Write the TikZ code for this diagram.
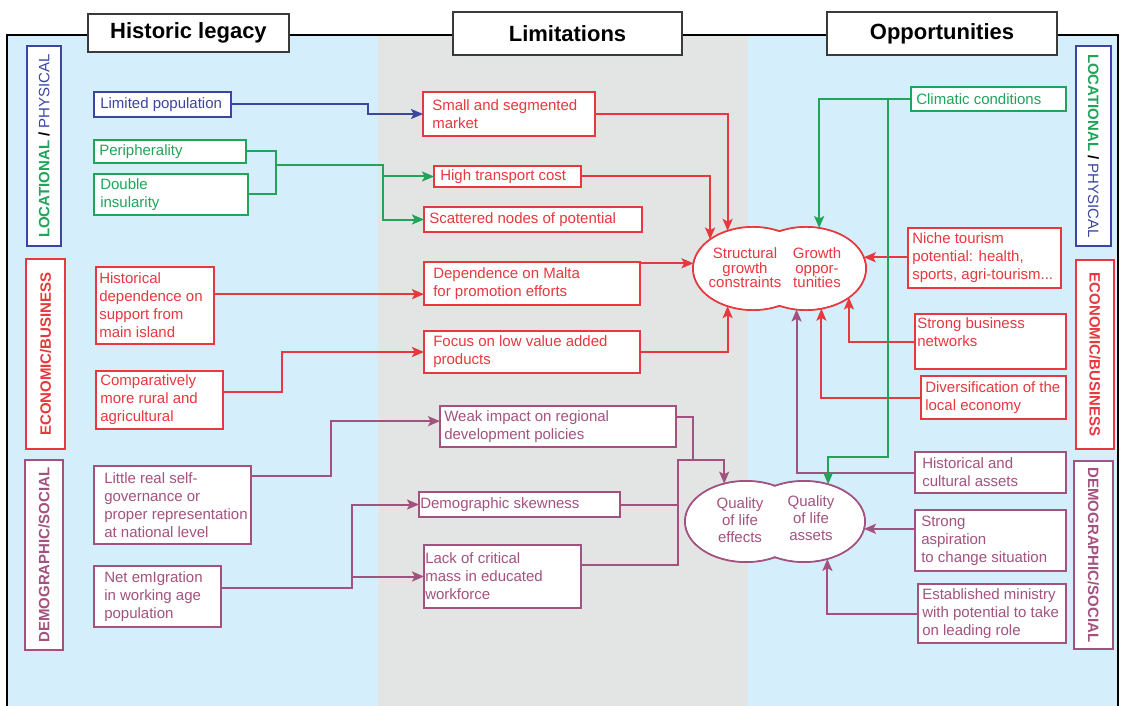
\documentclass[tikz,border=0pt]{standalone}
\usepackage{fontspec}
\setmainfont{Liberation Sans}
\usetikzlibrary{arrows.meta,fit,shapes.geometric}
\definecolor{bgblue}{HTML}{D4EEFB}
\definecolor{bggray}{HTML}{E3E4E4}
\definecolor{cred}{HTML}{E8383F}
\definecolor{cgreen}{HTML}{22A35A}
\definecolor{cblue}{HTML}{3A46A0}
\definecolor{cpurp}{HTML}{A3527F}
\definecolor{tframe}{HTML}{3A3A3A}
\tikzset{
  boxf/.style={rectangle, inner sep=0pt, outer sep=0pt, fill=white, line width=1.3pt},
  boxt/.style={inner sep=0pt, align=left, font=\fontsize{11.25}{13.5}\selectfont},
  cattext/.style={inner sep=0pt, font=\fontsize{11.25}{13}\selectfont\bfseries},
  titlebox/.style={rectangle, inner sep=0pt, outer sep=0pt, fill=white, draw=tframe, line width=1.4pt},
  titletext/.style={inner sep=0pt, font=\fontsize{16.5}{18}\selectfont\bfseries},
  ell/.style={ellipse, inner sep=0pt, outer sep=0pt, fill=white, line width=1.5pt},
  elltext/.style={inner sep=0pt, align=center},
  conn/.style={line width=1.5pt},
  arr/.style={conn, -{Stealth[length=9pt,width=7.5pt,inset=2pt]}},
}
% name, colour, x1, y1, x2, y2, text offset (px), text
\newcommand\bx[8]{%
  \node[boxf, draw=#2, fit={(#3,#4) (#5,#6)}] (#1) {};
  \node[boxt, text=#2, anchor=west] (#1t) at ([xshift=#7*0.75pt]#1.west) {#8};
}
% name, colour, x1, y1, x2, y2, rotation, text
\newcommand\catbx[8]{%
  \node[boxf, draw=#2, fit={(#3,#4) (#5,#6)}] (#1) {};
  \node[cattext, rotate=#7] (#1t) at (#1.center) {#8};
}
\begin{document}
\begin{tikzpicture}[x=0.75pt,y=-0.75pt]
\useasboundingbox (0,0) rectangle (1124,706);
% backgrounds and frame
\fill[bgblue] (7,35) rectangle (378,706);
\fill[bggray] (378,35) rectangle (748,706);
\fill[bgblue] (748,35) rectangle (1118,706);
\draw[line width=2pt] (7,706) -- (7,35) -- (1118,35) -- (1118,706);
% titles
\node[titlebox, fit={(88,14) (289,52)}] (th) {};
\node[titletext] (tht) at (th.center) {Historic legacy};
\node[titlebox, fit={(453,12) (682,55)}] (tl) {};
\node[titletext] (tlt) at (tl.center) {Limitations};
\node[titlebox, fit={(827,12) (1057,55)}] (to) {};
\node[titletext] (tot) at (to.center) {Opportunities};
% category labels
\catbx{cl1}{cblue}{27}{46}{61}{246}{90}{\textcolor{cgreen}{LOCATIONAL} / \textcolor{cblue}{\mdseries PHYSICAL}}
\catbx{ce1}{cred}{26}{259}{65}{449}{90}{\textcolor{cred}{ECONOMIC/BUSINESS}}
\catbx{cd1}{cpurp}{25}{460}{63}{650}{90}{\textcolor{cpurp}{DEMOGRAPHIC/SOCIAL}}
\catbx{cl2}{cblue}{1076}{46}{1111}{246}{-90}{\textcolor{cgreen}{LOCATIONAL} / \textcolor{cblue}{\mdseries PHYSICAL}}
\catbx{ce2}{cred}{1076}{260}{1114}{449}{-90}{\textcolor{cred}{ECONOMIC/BUSINESS}}
\catbx{cd2}{cpurp}{1074}{461}{1113}{649}{-90}{\textcolor{cpurp}{DEMOGRAPHIC/SOCIAL}}
% helper coordinates
\coordinate (v368) at (368,0);
\coordinate (v276) at (276,0);
\coordinate (v383) at (383,0);
\coordinate (v282) at (282,0);
\coordinate (v331) at (331,0);
\coordinate (v352) at (352,0);
\coordinate (pj) at (276,165);
\coordinate (jq) at (678,460);
\coordinate (jw) at (693,460);
\coordinate (cj) at (888,99);
\coordinate (cb) at (888,457);
% ellipses (nodes first, so anchors exist)
\node[ell, draw=cred, minimum width=90pt, minimum height=62.25pt] (sgL) at (753,268.5) {};
\node[ell, draw=cred, minimum width=90pt, minimum height=62.25pt] (goR) at (806,268.5) {};
\fill[white] (sgL.center) ellipse (44.2pt and 30.4pt);
\fill[white] (goR.center) ellipse (44.2pt and 30.4pt);
\node[ell, draw=cpurp, minimum width=91.5pt, minimum height=60.75pt] (qlL) at (746,521.5) {};
\node[ell, draw=cpurp, minimum width=91.5pt, minimum height=60.75pt] (qlR) at (804,521.5) {};
\fill[white] (qlL.center) ellipse (44.95pt and 29.6pt);
\fill[white] (qlR.center) ellipse (44.95pt and 29.6pt);
\node[elltext, text=cred, font=\fontsize{11.25}{10.9}\selectfont] (sgLt) at (745,268) {Structural\\growth\\constraints};
\node[elltext, text=cred, font=\fontsize{11.25}{10.9}\selectfont] (goRt) at (817,268) {Growth\\oppor-\\tunities};
\node[elltext, text=cpurp, font=\fontsize{11.25}{13}\selectfont] (qlLt) at (740,520) {Quality\\of life\\effects};
\node[elltext, text=cpurp, font=\fontsize{11.25}{13}\selectfont] (qlRt) at (811,518) {Quality\\of life\\assets};
% boxes: historic legacy
\bx{lim}{cblue}{94}{92}{231}{117}{6}{Limited population}
\bx{peri}{cgreen}{94}{140}{246}{163}{5}{Peripherality}
\bx{dbl}{cgreen}{94}{174}{248}{215}{6}{Double\\insularity}
\bx{hist}{cred}{96}{267}{214}{344}{3}{Historical\\dependence on\\support from\\main island}
\bx{comp}{cred}{96}{371}{223}{429}{4}{Comparatively\\more rural and\\agricultural}
\bx{lrs}{cpurp}{94}{466}{251}{544}{10}{Little real self-\\governance or\\proper representation\\at national level}
\bx{net}{cpurp}{94}{566}{221}{627}{10}{Net emIgration\\in working age\\population}
% boxes: limitations
\bx{small}{cred}{423}{92}{595}{136}{9}{Small and segmented\\market}
\bx{high}{cred}{434}{166}{581}{187}{6}{High transport cost}
\bx{scat}{cred}{424}{207}{642}{232}{5}{Scattered nodes of potential}
\bx{dep}{cred}{424}{262}{640}{305}{9}{Dependence on Malta\\for promotion efforts}
\bx{focus}{cred}{424}{331}{640}{373}{9}{Focus on low value added\\products}
\bx{weak}{cpurp}{440}{406}{676}{447}{4}{Weak impact on regional\\development policies}
\bx{dsk}{cpurp}{419}{492}{620}{517}{1}{Demographic skewness}
\bx{lack}{cpurp}{424}{545}{581}{608}{1}{Lack of critical\\mass in educated\\workforce}
% boxes: opportunities
\bx{clim}{cgreen}{911}{87}{1066}{111}{5}{Climatic conditions}
\bx{niche}{cred}{908}{228}{1061}{288}{4}{Niche tourism\\potential: health,\\sports, agri-tourism...}
\bx{sbn}{cred}{915}{314}{1066}{369}{2}{Strong business\\networks\\\mbox{}}
\bx{div}{cred}{921}{376}{1066}{419}{4}{Diversification of the\\local economy}
\bx{hca}{cpurp}{915}{452}{1066}{493}{7}{Historical and\\cultural assets}
\bx{asp}{cpurp}{915}{510}{1066}{571}{6}{Strong\\aspiration\\to change situation}
\bx{min}{cpurp}{918}{584}{1066}{643}{4}{Established ministry\\with potential to take\\on leading role}
% shifted connector ends
\coordinate (hs) at ([yshift=8.5pt]hist.east);
\coordinate (cs) at ([yshift=6pt]comp.east);
\coordinate (ls) at ([yshift=21.75pt]lrs.east);
\coordinate (wt) at ([yshift=4pt]weak.west);
\coordinate (ns) at ([yshift=6.4pt]net.east);
\coordinate (ws) at ([yshift=7pt]weak.east);
\coordinate (lk) at ([yshift=9pt]lack.east);
% connectors: left to middle
\draw[arr, cblue] (lim.east) -| (v368 |- small.west) -- (small.west);
\draw[conn, cgreen] (peri.east) -| (v276 |- dbl.east) -- (dbl.east);
\draw[arr, cgreen] (pj) -| (v383 |- high.west) -- (high.west);
\draw[arr, cgreen] (v383 |- pj) |- (scat.west);
\draw[arr, cred] (hs) -- (hs -| dep.west);
\draw[arr, cred] (cs) -| (v282 |- focus.west) -- (focus.west);
\draw[arr, cpurp] (ls) -| (v331 |- wt) -- (wt);
\draw[arr, cpurp] (ns) -| (v352 |- dsk.west) -- (dsk.west);
\draw[arr, cpurp] (v352 |- lack.west) -- (lack.west);
% connectors: middle to ellipses
\draw[arr, cred] (small.east) -| (sgL.124.8);
\draw[arr, cred] (high.east) -| (sgL.146.1);
\draw[arr, cred] (dep.east |- sgL.175.7) -- (sgL.175.7);
\draw[arr, cred] (focus.east) -| (sgL.236.4);
\draw[arr, cpurp] (ws) -| (jw) -| (qlL.120.2);
\draw[conn, cpurp] (dsk.east) -| (jq) -- (jw);
\draw[conn, cpurp] (lk) -| (jq);
% connectors: right to ellipses
\draw[arr, cred] (niche.west |- goR.11.3) -- (goR.11.3);
\draw[arr, cred] (sbn.west) -| (goR.326.1);
\draw[arr, cred] (div.west) -| (goR.291.8);
\draw[arr, cpurp] (hca.west) -| (goR.257.6);
\draw[arr, cpurp] (asp.west |- qlR.353.8) -- (qlR.353.8);
\draw[arr, cpurp] (min.west) -| (qlR.302.8);
\draw[arr, cgreen] (clim.west) -| (goR.72.2);
\draw[arr, cgreen] (cj) -- (cb) -| (qlR.57.2);
\end{tikzpicture}
\end{document}
